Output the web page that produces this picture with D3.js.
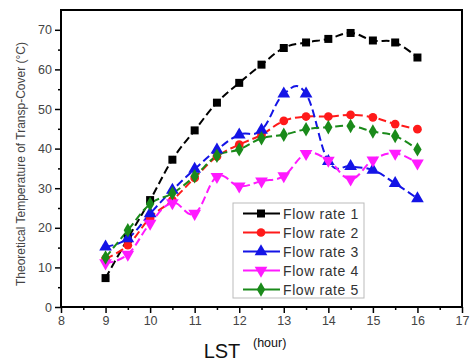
<!DOCTYPE html>
<html>
<head>
<meta charset="utf-8">
<script src="https://cdn.jsdelivr.net/npm/d3@7"></script>
<style>
  body { margin: 0; background: #fff; }
  text { font-family: "Liberation Sans", Arial, sans-serif; }
</style>
</head>
<body>
<div id="chart"></div>
<script>
// data
const hours = [9, 9.5, 10, 10.5, 11, 11.5, 12, 12.5, 13, 13.5, 14, 14.5, 15, 15.5, 16];
const flow1 = [7.3, 17.3, 27, 37.2, 44.6, 51.6, 56.6, 61.2, 65.4, 66.8, 67.7, 69.2, 67.3, 66.8, 63];
const flow2 = [12.2, 15.6, 22.5, 27, 32.6, 38, 41, 43.5, 47, 48.1, 48.1, 48.5, 47.9, 46.2, 44.9];
const flow3 = [15.2, 17.3, 23.6, 29.5, 34.8, 39.7, 43.5, 44.7, 53.8, 53.8, 36.8, 35.5, 34.6, 31.2, 27.4];
const flow4 = [11.1, 13.3, 21.1, 26.3, 23.6, 32.9, 30.5, 31.8, 33.1, 38.7, 37, 32.3, 37.1, 38.8, 36.3];
const flow5 = [12.5, 19.4, 26, 28.7, 33, 38.2, 39.8, 42.6, 43.5, 44.9, 45.4, 45.7, 44.3, 43.2, 39.8];
const seriesNames = ["Flow rate 1", "Flow rate 2", "Flow rate 3", "Flow rate 4", "Flow rate 5"];
const xTicks = [8, 9, 10, 11, 12, 13, 14, 15, 16, 17];
const yTicks = [0, 10, 20, 30, 40, 50, 60, 70];

const colors = ["#000000", "#ff1a1a", "#1414e6", "#ff1aff", "#1a8a1a"];
const symbols = [d3.symbolSquare, d3.symbolCircle, d3.symbolTriangle, d3.symbolTriangle, d3.symbolDiamond];
const symSize = [64, 60, 70, 70, 60];
const symRot = [0, 0, 0, 180, 0];

const series = [flow1, flow2, flow3, flow4, flow5].map((vals, i) => ({
  name: seriesNames[i],
  points: hours.map((h, j) => ({x: h, y: vals[j]}))
}));

const W = 470, H = 363;
const margin = {top: 10, right: 8, bottom: 56, left: 61};
const width = W - margin.left - margin.right;
const height = H - margin.top - margin.bottom;

const svg = d3.select("#chart").append("svg")
  .attr("width", W)
  .attr("height", H);

const g = svg.append("g")
  .attr("transform", `translate(${margin.left},${margin.top})`);

const x = d3.scaleLinear().domain([8, 17]).range([0, width]);
const y = d3.scaleLinear().domain([0, 75]).range([height, 0]);

// minor ticks
g.append("g")
  .attr("transform", `translate(0,${height})`)
  .call(d3.axisBottom(x).tickValues(d3.range(8.5, 17, 1)).tickSize(3).tickFormat(""))
  .call(a => a.select(".domain").remove())
  .call(a => a.selectAll("line").attr("stroke-width", 1.5));
g.append("g")
  .call(d3.axisLeft(y).tickValues(d3.range(5, 75, 10)).tickSize(3).tickFormat(""))
  .call(a => a.select(".domain").remove())
  .call(a => a.selectAll("line").attr("stroke-width", 1.5));

// major ticks + labels
const xAxis = g.append("g")
  .attr("transform", `translate(0,${height})`)
  .call(d3.axisBottom(x).tickValues(xTicks).tickSize(6).tickPadding(3).tickFormat(d3.format("d")));
xAxis.select(".domain").remove();
xAxis.selectAll("line").attr("stroke-width", 1.5);
xAxis.selectAll("text").attr("font-size", 12.5).attr("fill", "#444");

const yAxis = g.append("g")
  .call(d3.axisLeft(y).tickValues(yTicks).tickSize(6).tickPadding(3).tickFormat(d3.format("d")));
yAxis.select(".domain").remove();
yAxis.selectAll("line").attr("stroke-width", 1.5);
yAxis.selectAll("text").attr("font-size", 12.5).attr("fill", "#444");

// frame
g.append("rect")
  .attr("width", width)
  .attr("height", height)
  .attr("fill", "none")
  .attr("stroke", "#000")
  .attr("stroke-width", 2);

// lines (Origin-style spline)
const line = d3.line()
  .x(d => x(d.x))
  .y(d => y(d.y))
  .curve(d3.curveCardinal.tension(-0.2));

series.forEach((s, i) => {
  g.append("path")
    .datum(s.points)
    .attr("fill", "none")
    .attr("stroke", colors[i])
    .attr("stroke-width", 2)
    .attr("stroke-dasharray", "8,4")
    .attr("d", line);
});

// markers
series.forEach((s, i) => {
  g.selectAll(".m" + i)
    .data(s.points)
    .enter()
    .append("path")
    .attr("class", "m" + i)
    .attr("d", d3.symbol().type(symbols[i]).size(symSize[i]))
    .attr("transform", d => `translate(${x(d.x)},${y(d.y)}) rotate(${symRot[i]})`)
    .attr("fill", colors[i]);
});

// legend
const legend = g.append("g").attr("transform", "translate(172,193)");
legend.append("rect")
  .attr("width", 131)
  .attr("height", 95)
  .attr("fill", "#fff")
  .attr("stroke", "#bbb")
  .attr("stroke-width", 1);

const item = legend.selectAll(".legend")
  .data(series)
  .enter()
  .append("g")
  .attr("class", "legend")
  .attr("transform", (d, i) => `translate(0,${10.5 + i * 19})`);

item.append("line")
  .attr("x1", 10).attr("x2", 47)
  .attr("stroke", (d, i) => colors[i])
  .attr("stroke-width", 2);

item.append("path")
  .attr("d", (d, i) => d3.symbol().type(symbols[i]).size(symSize[i])())
  .attr("transform", (d, i) => `translate(28,0) rotate(${symRot[i]})`)
  .attr("fill", (d, i) => colors[i]);

item.append("text")
  .attr("x", 50)
  .attr("y", 5)
  .attr("font-size", 14)
  .attr("letter-spacing", 0.6)
  .attr("fill", "#333")
  .text(d => d.name);

// axis titles
svg.append("text")
  .attr("x", 222)
  .attr("y", 358)
  .attr("text-anchor", "middle")
  .attr("font-size", 20)
  .attr("fill", "#111")
  .text("LST");
svg.append("text")
  .attr("x", 253)
  .attr("y", 347)
  .attr("font-size", 12.5)
  .attr("fill", "#111")
  .text("(hour)");

svg.append("text")
  .attr("transform", "translate(25,164) rotate(-90)")
  .attr("text-anchor", "middle")
  .attr("font-size", 12)
  .attr("fill", "#444")
  .text("Theoretical Temperature of Transp-Cover (°C)");
</script>
</body>
</html>
